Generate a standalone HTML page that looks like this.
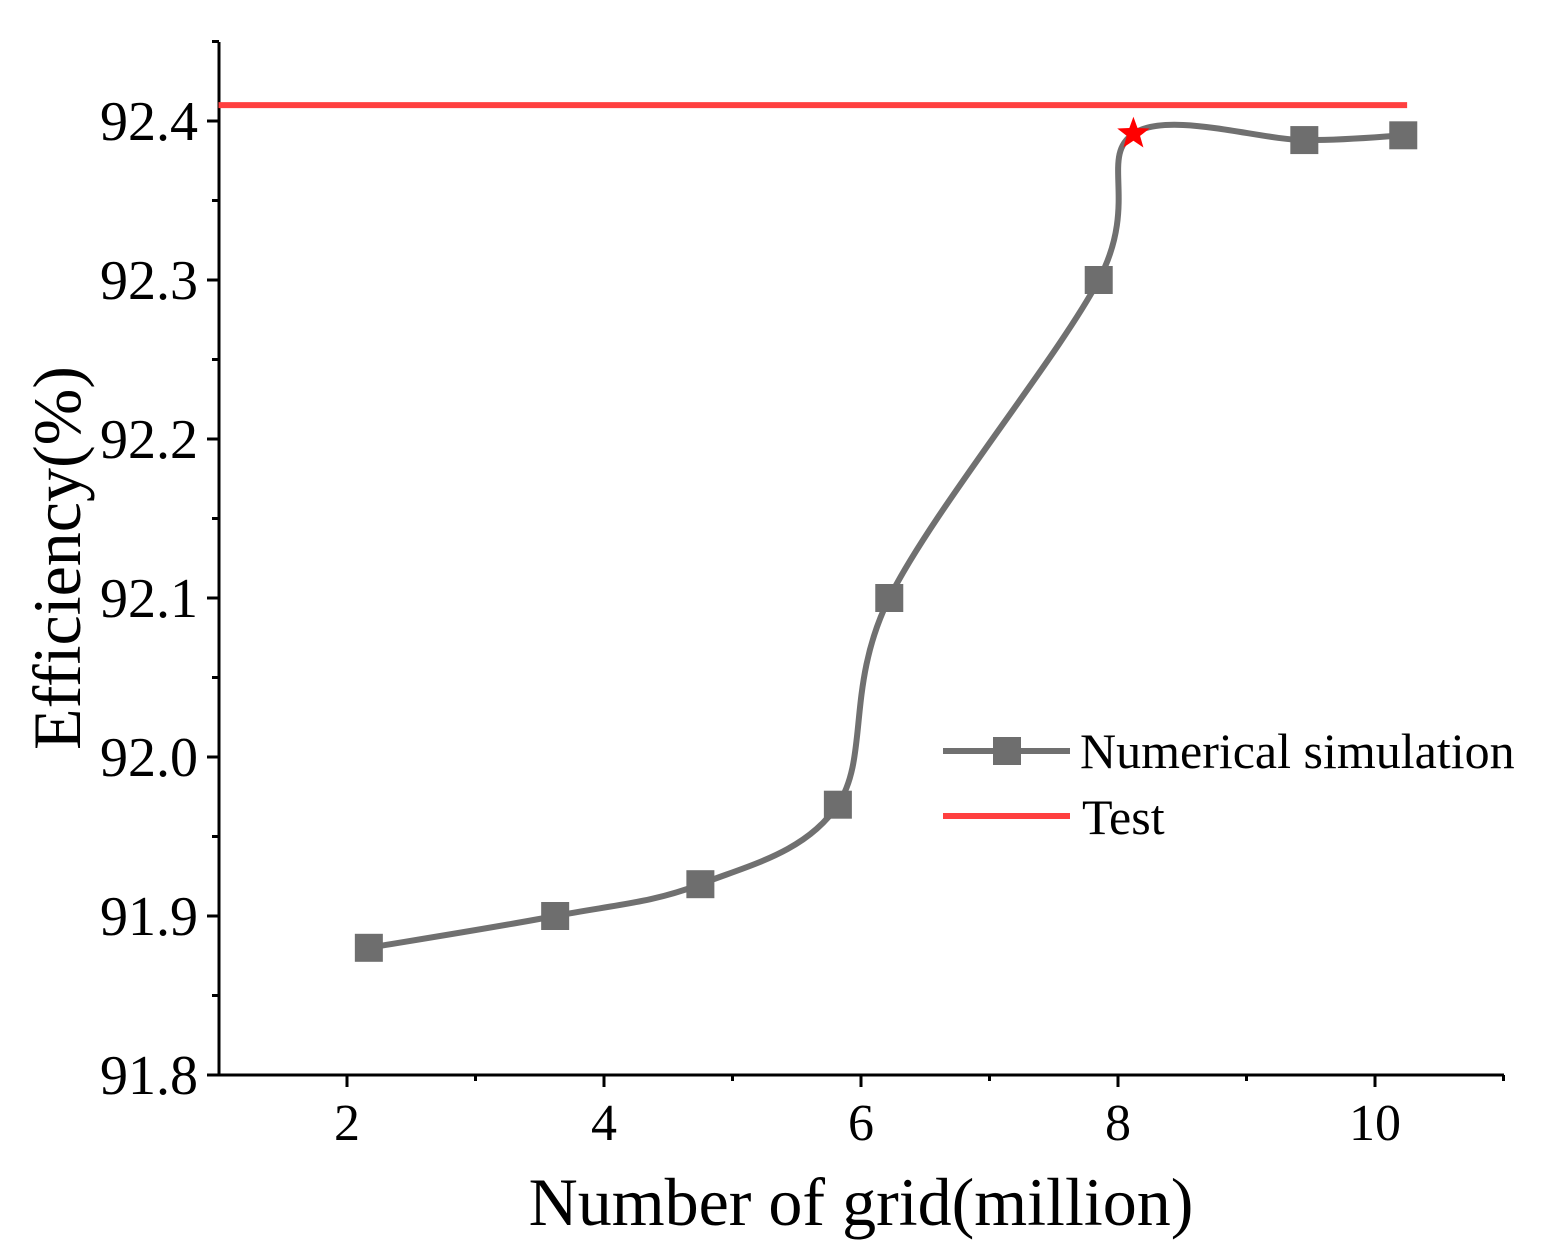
<!DOCTYPE html>
<html><head><meta charset="utf-8"><style>body{margin:0;background:#fff}svg{display:block;font-family:"Liberation Serif",serif}</style></head>
<body>
<svg id="c" width="1567" height="1256"></svg>
<script>
const xs=[2.17,3.62,4.75,5.82,6.22,7.85,9.45,10.22];
const sim=[91.88,91.90,91.92,91.97,92.10,92.30,92.388,92.391];
const testVal=92.41;
const testRange=[1,10.25];
const star=[8.12,92.392];
const xTicks=[2,4,6,8,10];
const yTicks=[91.8,91.9,92.0,92.1,92.2,92.3,92.4];
const yLabels=["91.8","91.9","92.0","92.1","92.2","92.3","92.4"];
const NS="http://www.w3.org/2000/svg";
const svg=document.getElementById('c');
const X=v=>218.5+(v-1)*128.5;
const Y=v=>1075-(v-91.8)*1590;
function el(t,a,p){const e=document.createElementNS(NS,t);for(const k in a)e.setAttribute(k,a[k]);(p||svg).appendChild(e);return e;}
let ax=el('path',{d:`M219,42 V1075 H1504`,stroke:'#000','stroke-width':3,fill:'none'});


for(let v=91.8;v<=92.451;v+=0.05){const y=Y(v);const major=Math.abs((v*10)-Math.round(v*10))<0.01;
 const t=el('line',{x1:219,x2:major?207:212,y1:y,y2:y,stroke:'#000','stroke-width':3});
 
 }
yTicks.forEach((v,i)=>{const t=el('text',{x:198,y:Y(v)+19,'text-anchor':'end','font-size':56});t.textContent=yLabels[i];
 
 });
for(let v=2;v<=11;v++){const x=X(v);const major=v%2==0;
 const t=el('line',{x1:x,x2:x,y1:1075,y2:major?1087:1081,stroke:'#000','stroke-width':3});
 
 }
xTicks.forEach(v=>{const t=el('text',{x:X(v),y:1140,'text-anchor':'middle','font-size':52});t.textContent=v;
 
 });
let xt=el('text',{x:861,y:1225,'text-anchor':'middle','font-size':68});xt.textContent='Number of grid(million)';


let yt=el('text',{x:0,y:0,'text-anchor':'middle','font-size':68,transform:'translate(80,558) rotate(-90)'});yt.textContent='Efficiency(%)';


let tl=el('line',{x1:X(testRange[0]),x2:X(testRange[1]),y1:Y(testVal),y2:Y(testVal),stroke:'#ff4040','stroke-width':6});


const kx=xs.slice(),ky=sim.slice();
let ins=kx.findIndex(v=>v>star[0]);kx.splice(ins,0,star[0]);ky.splice(ins,0,star[1]);
const P=kx.map((x,i)=>[X(x),Y(ky[i])]);
let d=`M${P[0][0]},${P[0][1]}`;
for(let i=0;i<P.length-1;i++){const p0=P[i-1]||P[i],p1=P[i],p2=P[i+1],p3=P[i+2]||P[i+1];
 d+=` C${p1[0]+(p2[0]-p0[0])/6},${p1[1]+(p2[1]-p0[1])/6} ${p2[0]-(p3[0]-p1[0])/6},${p2[1]-(p3[1]-p1[1])/6} ${p2[0]},${p2[1]}`;}
let sl=el('path',{d,stroke:'#707070','stroke-width':6,fill:'none'});


xs.forEach((x,i)=>{const m=el('rect',{x:X(x)-14,y:Y(sim[i])-14,width:28,height:28,fill:'#6e6e6e'});
 
 });
const sx=X(star[0]),sy=Y(star[1]);let sp='';
for(let k=0;k<10;k++){const r=k%2?7:17,a=-Math.PI/2+k*Math.PI/5;sp+=(sx+r*Math.cos(a))+','+(sy+r*Math.sin(a))+' ';}
let st=el('polygon',{points:sp,fill:'#ff0000'});


let l1=el('line',{x1:943,x2:1070,y1:751,y2:751,stroke:'#707070','stroke-width':6});


let lm=el('rect',{x:993,y:737,width:28,height:28,fill:'#6e6e6e'});


let lt1=el('text',{x:1080,y:768,'font-size':50});lt1.textContent='Numerical simulation';


let l2=el('line',{x1:943,x2:1070,y1:816,y2:816,stroke:'#ff4040','stroke-width':6});


let lt2=el('text',{x:1082,y:834,'font-size':50});lt2.textContent='Test';


</script>
</body></html>
